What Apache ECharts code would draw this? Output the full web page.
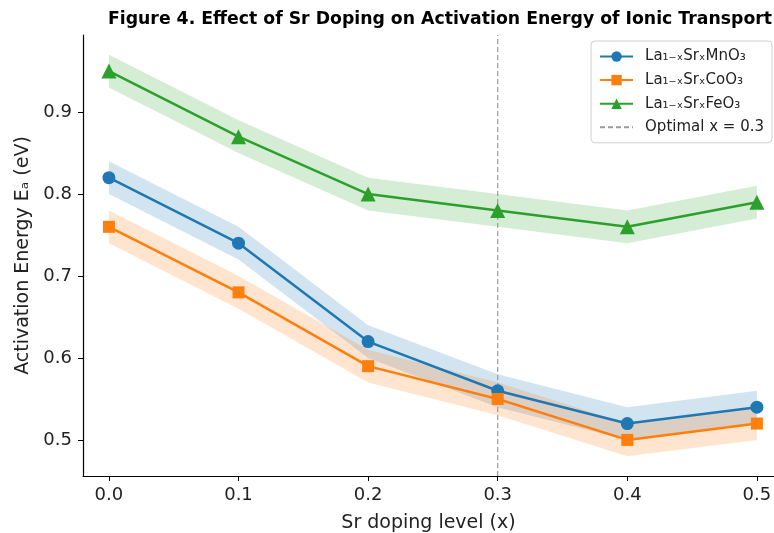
<!DOCTYPE html>
<html><head><meta charset="utf-8">
<script src="https://cdn.jsdelivr.net/npm/echarts@6/dist/echarts.min.js"></script>
<style>html,body{margin:0;padding:0;background:#fff}#c{width:774px;height:533px}</style>
</head><body><div id="c"></div>
<script>
const xs = [0.0, 0.1, 0.2, 0.3, 0.4, 0.5];
const mnVals = [0.82, 0.74, 0.62, 0.56, 0.52, 0.54];
const coVals = [0.76, 0.68, 0.59, 0.55, 0.50, 0.52];
const feVals = [0.95, 0.87, 0.80, 0.78, 0.76, 0.79];
const bandHalf = 0.02;
const optimalX = 0.3;
const xTicks = [0.0, 0.1, 0.2, 0.3, 0.4, 0.5];
const yTicks = [0.5, 0.6, 0.7, 0.8, 0.9];
const names = ['La\u2081\u208B\u2093Sr\u2093MnO\u2083', 'La\u2081\u208B\u2093Sr\u2093CoO\u2083', 'La\u2081\u208B\u2093Sr\u2093FeO\u2083', 'Optimal x = 0.3'];
const colors = ['#1f77b4', '#ff7f0e', '#2ca02c'];
const yMin = 0.456, yMax = 0.994;
const xMin = -0.02, xMax = 0.5132;
const font = 'DejaVu Sans';

function bandSeries(vals, color) {
  const pts = xs.map((x, i) => [x, vals[i] - bandHalf, vals[i] + bandHalf]);
  return {
    type: 'custom', silent: true, z: 1,
    data: pts,
    encode: {x: 0, y: [1, 2]},
    renderItem: function (params, api) {
      const i = params.dataIndex;
      if (i >= pts.length - 1) return null;
      const a = pts[i], b = pts[i + 1];
      const p = [api.coord([a[0], a[1]]), api.coord([b[0], b[1]]), api.coord([b[0], b[2]]), api.coord([a[0], a[2]])];
      return {type: 'polygon', shape: {points: p}, style: {fill: color, opacity: 0.2, stroke: null}};
    }
  };
}
function lineSeries(name, vals, color, symbol, size) {
  return {
    name: name, type: 'line', z: 3,
    data: xs.map((x, i) => [x, vals[i]]),
    symbol: symbol, symbolSize: size, showSymbol: true,
    lineStyle: {color: color, width: 2.5},
    itemStyle: {color: color},
    emphasis: {disabled: true}
  };
}
const chart = echarts.init(document.getElementById('c'), null, {renderer: 'canvas'});
chart.setOption({
  animation: false,
  backgroundColor: '#fff',
  title: {
    text: 'Figure 4. Effect of Sr Doping on Activation Energy of Ionic Transport',
    left: 435, top: 6, textAlign: 'center',
    textStyle: {fontFamily: font, fontWeight: 'bold', fontSize: 17.3, color: '#000'}
  },
  legend: {
    data: names.map((n, i) => i === 3 ? {name: n, itemStyle: {opacity: 0}} : {name: n}),
    orient: 'vertical', right: 2, top: 41,
    itemWidth: 33, itemHeight: 13, itemGap: 8.6,
    padding: [8, 8, 8, 8],
    borderColor: '#d0d0d0', borderWidth: 1, borderRadius: 4,
    backgroundColor: 'rgba(255,255,255,0.8)',
    textStyle: {fontFamily: font, fontSize: 15, color: '#222', padding: [0, 0, 0, 7]}
  },
  grid: {left: 83, top: 35, right: 0, height: 441, containLabel: false, outerBoundsMode: 'none'},
  xAxis: {
    type: 'value', min: xMin, max: xMax,
    name: 'Sr doping level (x)', nameLocation: 'middle', nameGap: 38,
    nameTextStyle: {fontFamily: font, fontSize: 19, color: '#222'},
    axisLine: {onZero: false, lineStyle: {color: '#000', width: 1.2}},
    axisTick: {show: true, length: 5, lineStyle: {color: '#000'}, customValues: xTicks},
    axisLabel: {fontFamily: font, fontSize: 18, color: '#222', margin: 10,
      customValues: xTicks, formatter: v => v.toFixed(1)},
    splitLine: {show: false}
  },
  yAxis: {
    type: 'value', min: yMin, max: yMax,
    name: 'Activation Energy E\u2090 (eV)', nameLocation: 'middle', nameGap: 48,
    nameTextStyle: {fontFamily: font, fontSize: 19, color: '#222'},
    axisLine: {show: true, onZero: false, lineStyle: {color: '#000', width: 1.2}},
    axisTick: {show: true, length: 5, lineStyle: {color: '#000'}, customValues: yTicks},
    axisLabel: {fontFamily: font, fontSize: 18, color: '#222', margin: 11,
      customValues: yTicks, formatter: v => v.toFixed(1)},
    splitLine: {show: false}
  },
  series: [
    bandSeries(mnVals, colors[0]),
    bandSeries(coVals, colors[1]),
    bandSeries(feVals, colors[2]),
    lineSeries(names[0], mnVals, colors[0], 'circle', 13),
    lineSeries(names[1], coVals, colors[1], 'rect', 12),
    lineSeries(names[2], feVals, colors[2], 'triangle', 15),
    {
      name: names[3], type: 'line', z: 2, symbol: 'none', showSymbol: false,
      data: [[optimalX, yMin], [optimalX, yMax]],
      lineStyle: {color: '#999', width: 1.2, type: [5, 3]},
      itemStyle: {color: '#999'}
    }
  ]
});
</script></body></html>
